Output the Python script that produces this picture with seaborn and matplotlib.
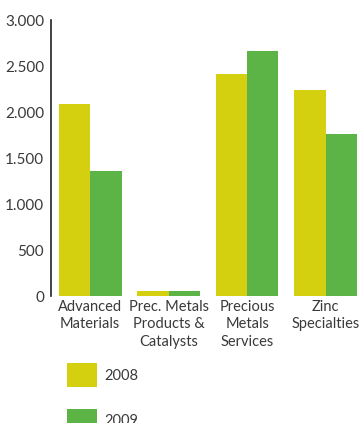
import matplotlib
matplotlib.use("Agg")
import matplotlib.pyplot as plt
import seaborn as sns
import pandas as pd

categories = ["Advanced\nMaterials", "Prec. Metals\nProducts &\nCatalysts", "Precious\nMetals\nServices", "Zinc\nSpecialties"]
values_2008 = [2087, 55, 2413, 2239]
values_2009 = [1359, 55, 2663, 1761]
years = ["2008", "2009"]
yticks = [0, 500, 1000, 1500, 2000, 2500, 3000]
ytick_labels = ["0", "500", "1.000", "1.500", "2.000", "2.500", "3.000"]

df = pd.DataFrame({
    "category": categories * 2,
    "value": values_2008 + values_2009,
    "year": [years[0]] * len(categories) + [years[1]] * len(categories),
})

sns.set_style("white")
plt.rcParams["font.family"] = ["Lato", "DejaVu Sans"]
text_color = "#3a3a3a"

fig = plt.figure(figsize=(3.59, 4.23), dpi=100)
ax = fig.add_axes([51 / 359, 1 - 296 / 423, 1 - 51 / 359, (296 - 20) / 423])
palette = {"2008": "#d4d00f", "2009": "#5cb346"}
sns.barplot(data=df, x="category", y="value", hue="year", palette=palette,
            width=0.8, saturation=1, ax=ax, legend=True, linewidth=0)

ax.set_xlim(-0.5, 3.427)
ax.set_ylim(0, 3000)
ax.set_yticks(yticks)
ax.set_yticklabels(ytick_labels)
ax.set_xlabel("")
ax.set_ylabel("")
for s in ["top", "right", "bottom"]:
    ax.spines[s].set_visible(False)
ax.spines["left"].set_color("#222222")
ax.spines["left"].set_linewidth(1.2)
ax.tick_params(axis="both", length=0, colors=text_color)
ax.tick_params(axis="y", pad=5, labelsize=11)
ax.tick_params(axis="x", pad=3, labelsize=10.5)
for lbl in ax.get_xticklabels():
    lbl.set_linespacing(1.3)

handles, labels = ax.get_legend_handles_labels()
ax.get_legend().remove()
leg = fig.legend(handles, labels, loc="upper left",
                 bbox_to_anchor=(67 / 359, 1 - 363 / 423),
                 frameon=False, borderpad=0, borderaxespad=0,
                 handlelength=2.06, handleheight=2.2, handletextpad=0.5,
                 labelspacing=1.45, fontsize=10.5)
for t in leg.get_texts():
    t.set_color(text_color)

fig.savefig("out.png", dpi=100)
